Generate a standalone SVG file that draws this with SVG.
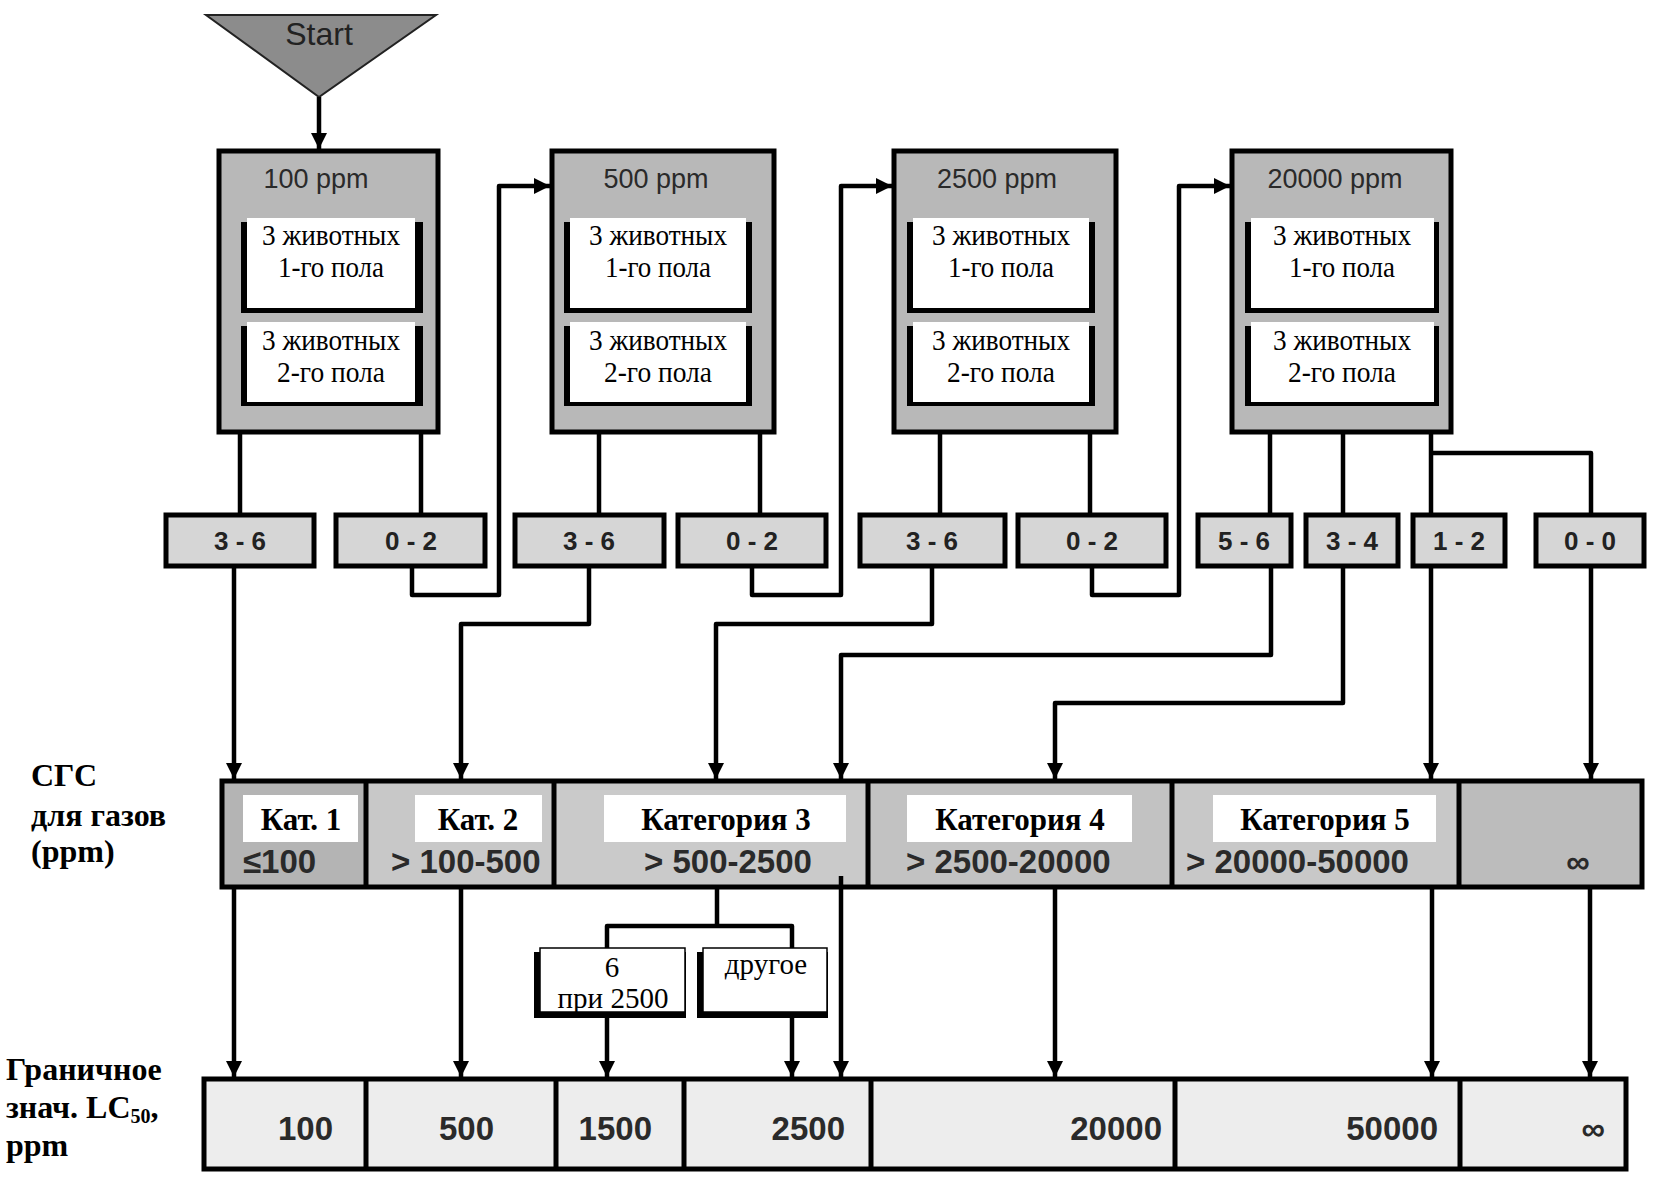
<svg xmlns="http://www.w3.org/2000/svg" width="1656" height="1178" viewBox="0 0 1656 1178">
<style>
.box{fill:#b8b8b8;stroke:#000;stroke-width:5}
.inner{fill:#fff}
.shadow{fill:#000}
.lbl{fill:#d6d6d6;stroke:#000;stroke-width:5}
.ttl{font-family:"Liberation Sans",Arial,sans-serif;font-size:27px;fill:#2a2a2a;text-anchor:middle}
.it{font-family:"Liberation Serif","Times New Roman",serif;font-size:30px;fill:#000;text-anchor:middle}
.lt{font-family:"Liberation Sans",Arial,sans-serif;font-size:26px;font-weight:bold;fill:#222;text-anchor:middle}
.ct{font-family:"Liberation Serif","Times New Roman",serif;font-size:31px;font-weight:bold;fill:#000;text-anchor:middle}
.rt{font-family:"Liberation Sans","DejaVu Sans",Arial,sans-serif;font-size:33px;font-weight:bold;fill:#2a2a2a}
.nt{font-family:"Liberation Sans","DejaVu Sans",Arial,sans-serif;font-size:33px;font-weight:bold;fill:#2a2a2a;text-anchor:end}
.side{font-family:"Liberation Serif","Times New Roman",serif;font-size:32px;font-weight:bold;fill:#000}
.st{font-family:"Liberation Serif","Times New Roman",serif;font-size:29px;fill:#000;text-anchor:middle}
.ln{fill:none;stroke:#000;stroke-width:4.5;stroke-linejoin:round}
.ar{marker-end:url(#ah)}
</style>
<defs>
<marker id="ah" markerUnits="userSpaceOnUse" markerWidth="16" markerHeight="16" viewBox="0 0 16 16" refX="16" refY="8" orient="auto">
<path d="M0,0 L16,8 L0,16 z" fill="#000"/>
</marker>
</defs>
<rect width="1656" height="1178" fill="#fff"/>

<g id="start">
<polygon points="206,15 436,15 319,97" fill="#8c8c8c" stroke="#222" stroke-width="2"/>
<text x="319" y="45" font-family="Liberation Sans,Arial,sans-serif" font-size="32" fill="#222" text-anchor="middle">Start</text>
</g>

<g id="box1">
<rect class="box" x="219" y="151" width="219" height="281"/>
<text class="ttl" x="316" y="188">100 ppm</text>
<rect class="shadow" x="241" y="222" width="182" height="91"/>
<rect class="inner" x="247" y="218" width="168" height="90"/>
<text class="it" x="331" y="245" textLength="138" lengthAdjust="spacingAndGlyphs">3 животных</text>
<text class="it" x="331" y="277" textLength="106" lengthAdjust="spacingAndGlyphs">1-го пола</text>
<rect class="shadow" x="241" y="326" width="182" height="80"/>
<rect class="inner" x="247" y="322" width="168" height="80"/>
<text class="it" x="331" y="350" textLength="138" lengthAdjust="spacingAndGlyphs">3 животных</text>
<text class="it" x="331" y="382" textLength="108" lengthAdjust="spacingAndGlyphs">2-го пола</text>
</g>

<g id="box2">
<rect class="box" x="552" y="151" width="222" height="281"/>
<text class="ttl" x="656" y="188">500 ppm</text>
<rect class="shadow" x="564" y="222" width="188" height="91"/>
<rect class="inner" x="570" y="218" width="176" height="90"/>
<text class="it" x="658" y="245" textLength="138" lengthAdjust="spacingAndGlyphs">3 животных</text>
<text class="it" x="658" y="277" textLength="106" lengthAdjust="spacingAndGlyphs">1-го пола</text>
<rect class="shadow" x="564" y="326" width="188" height="80"/>
<rect class="inner" x="570" y="322" width="176" height="80"/>
<text class="it" x="658" y="350" textLength="138" lengthAdjust="spacingAndGlyphs">3 животных</text>
<text class="it" x="658" y="382" textLength="108" lengthAdjust="spacingAndGlyphs">2-го пола</text>
</g>

<g id="box3">
<rect class="box" x="894" y="151" width="222" height="281"/>
<text class="ttl" x="997" y="188">2500 ppm</text>
<rect class="shadow" x="907" y="222" width="188" height="91"/>
<rect class="inner" x="913" y="218" width="176" height="90"/>
<text class="it" x="1001" y="245" textLength="138" lengthAdjust="spacingAndGlyphs">3 животных</text>
<text class="it" x="1001" y="277" textLength="106" lengthAdjust="spacingAndGlyphs">1-го пола</text>
<rect class="shadow" x="907" y="326" width="188" height="80"/>
<rect class="inner" x="913" y="322" width="176" height="80"/>
<text class="it" x="1001" y="350" textLength="138" lengthAdjust="spacingAndGlyphs">3 животных</text>
<text class="it" x="1001" y="382" textLength="108" lengthAdjust="spacingAndGlyphs">2-го пола</text>
</g>

<g id="box4">
<rect class="box" x="1232" y="151" width="219" height="281"/>
<text class="ttl" x="1335" y="188">20000 ppm</text>
<rect class="shadow" x="1245" y="222" width="194" height="91"/>
<rect class="inner" x="1251" y="218" width="183" height="90"/>
<text class="it" x="1342" y="245" textLength="138" lengthAdjust="spacingAndGlyphs">3 животных</text>
<text class="it" x="1342" y="277" textLength="106" lengthAdjust="spacingAndGlyphs">1-го пола</text>
<rect class="shadow" x="1245" y="326" width="194" height="80"/>
<rect class="inner" x="1251" y="322" width="183" height="80"/>
<text class="it" x="1342" y="350" textLength="138" lengthAdjust="spacingAndGlyphs">3 животных</text>
<text class="it" x="1342" y="382" textLength="108" lengthAdjust="spacingAndGlyphs">2-го пола</text>
</g>

<g id="labels">
<g id="l1"><rect class="lbl" x="166" y="515" width="148" height="51"/><text class="lt" x="240" y="550">3 - 6</text></g>
<g id="l2"><rect class="lbl" x="336" y="515" width="149" height="51"/><text class="lt" x="411" y="550">0 - 2</text></g>
<g id="l3"><rect class="lbl" x="515" y="515" width="149" height="51"/><text class="lt" x="589" y="550">3 - 6</text></g>
<g id="l4"><rect class="lbl" x="678" y="515" width="148" height="51"/><text class="lt" x="752" y="550">0 - 2</text></g>
<g id="l5"><rect class="lbl" x="860" y="515" width="145" height="51"/><text class="lt" x="932" y="550">3 - 6</text></g>
<g id="l6"><rect class="lbl" x="1018" y="515" width="148" height="51"/><text class="lt" x="1092" y="550">0 - 2</text></g>
<g id="l7"><rect class="lbl" x="1198" y="515" width="93" height="51"/><text class="lt" x="1244" y="550">5 - 6</text></g>
<g id="l8"><rect class="lbl" x="1306" y="515" width="92" height="51"/><text class="lt" x="1352" y="550">3 - 4</text></g>
<g id="l9"><rect class="lbl" x="1413" y="515" width="92" height="51"/><text class="lt" x="1459" y="550">1 - 2</text></g>
<g id="l10"><rect class="lbl" x="1536" y="515" width="108" height="51"/><text class="lt" x="1590" y="550">0 - 0</text></g>
</g>

<g id="side-labels">
<text class="side" x="31" y="786">СГС</text>
<text class="side" x="31" y="826">для газов</text>
<text class="side" x="31" y="862">(ppm)</text>
<text class="side" x="6" y="1080">Граничное</text>
<text class="side" x="6" y="1118">знач. LC<tspan font-size="20" dy="5">50</tspan><tspan dy="-5">,</tspan></text>
<text class="side" x="6" y="1156">ppm</text>
</g>

<g id="category-row">
<rect x="222" y="781" width="144" height="106" fill="#b4b4b4"/>
<rect x="366" y="781" width="188" height="106" fill="#c8c8c8"/>
<text class="rt" x="391" y="873">&gt; 100-500</text>
<rect x="554" y="781" width="314" height="106" fill="#cacaca"/>
<rect x="868" y="781" width="304" height="106" fill="#c2c2c2"/>
<rect x="1172" y="781" width="287" height="106" fill="#c8c8c8"/>
<rect x="1459" y="781" width="183" height="106" fill="#bcbcbc"/>
<rect x="243" y="795" width="115" height="47" fill="#fff"/>
<rect x="415" y="795" width="127" height="47" fill="#fff"/>
<rect x="604" y="795" width="242" height="47" fill="#fff"/>
<rect x="907" y="795" width="225" height="47" fill="#fff"/>
<rect x="1213" y="795" width="223" height="47" fill="#fff"/>
<text class="ct" x="301" y="830">Кат. 1</text>
<text class="ct" x="478" y="830">Кат. 2</text>
<text class="ct" x="726" y="830">Категория 3</text>
<text class="ct" x="1020" y="830">Категория 4</text>
<text class="ct" x="1325" y="830">Категория 5</text>
<text class="rt" x="243" y="873">≤100</text>
<text class="rt" x="644" y="873">&gt; 500-2500</text>
<text class="rt" x="906" y="873">&gt; 2500-20000</text>
<text class="rt" x="1186" y="873">&gt; 20000-50000</text>
<text class="rt" x="1578" y="873" text-anchor="middle">∞</text>
<rect x="222" y="781" width="1420" height="106" fill="none" stroke="#000" stroke-width="5"/>
<path d="M366,781V887M554,781V887M868,781V887M1172,781V887M1459,781V887" stroke="#000" stroke-width="5"/>
</g>

<g id="sub-boxes">
<g id="s1">
<rect class="shadow" x="534" y="952" width="152" height="66"/>
<rect class="inner" x="540" y="948" width="145" height="64" stroke="#000" stroke-width="1.5"/>
<text class="st" x="612" y="977">6</text>
<text class="st" x="613" y="1008">при 2500</text>
</g>
<g id="s2">
<rect class="shadow" x="697" y="952" width="131" height="66"/>
<rect class="inner" x="703" y="948" width="124" height="64" stroke="#000" stroke-width="1.5"/>
<text class="st" x="766" y="974">другое</text>
</g>
</g>

<g id="lc-row">
<rect x="204" y="1079" width="1422" height="90" fill="#ededed"/>
<text class="nt" x="333" y="1140">100</text>
<text class="nt" x="494" y="1140">500</text>
<text class="nt" x="652" y="1140">1500</text>
<text class="nt" x="845" y="1140">2500</text>
<text class="nt" x="1162" y="1140">20000</text>
<text class="nt" x="1438" y="1140">50000</text>
<text class="nt" x="1605" y="1140">∞</text>
<rect x="204" y="1079" width="1422" height="90" fill="none" stroke="#000" stroke-width="5"/>
<path d="M366,1079V1169M556,1079V1169M684,1079V1169M871,1079V1169M1175,1079V1169M1460,1079V1169" stroke="#000" stroke-width="5"/>
</g>

<g id="connectors">
<path class="ln ar" d="M319,97V149"/>
<path class="ln" d="M240,432V515M421,432V515M599,432V515M760,432V515M940,432V515M1090,432V515M1270,432V515M1343,432V515M1431,432V515"/>
<path class="ln" d="M1431,453H1591V515"/>
<path class="ln ar" d="M234,566V779"/>
<path class="ln ar" d="M412,566V595H499V186H550"/>
<path class="ln ar" d="M589,566V624H461V779"/>
<path class="ln ar" d="M752,566V595H841V186H892"/>
<path class="ln ar" d="M932,566V624H716V779"/>
<path class="ln ar" d="M1092,566V595H1179V186H1230"/>
<path class="ln ar" d="M1271,566V655H841V779"/>
<path class="ln ar" d="M1343,566V703H1055V779"/>
<path class="ln ar" d="M1431,566V779"/>
<path class="ln ar" d="M1591,566V779"/>
<path class="ln ar" d="M234,887V1077"/>
<path class="ln ar" d="M461,887V1077"/>
<path class="ln" d="M717,887V926M607,948V926H792V948"/>
<path class="ln ar" d="M607,1018V1077"/>
<path class="ln ar" d="M792,1018V1077"/>
<path class="ln ar" d="M841,876V1077"/>
<path class="ln ar" d="M1055,887V1077"/>
<path class="ln ar" d="M1432,887V1077"/>
<path class="ln ar" d="M1590,887V1077"/>
</g>
</svg>
